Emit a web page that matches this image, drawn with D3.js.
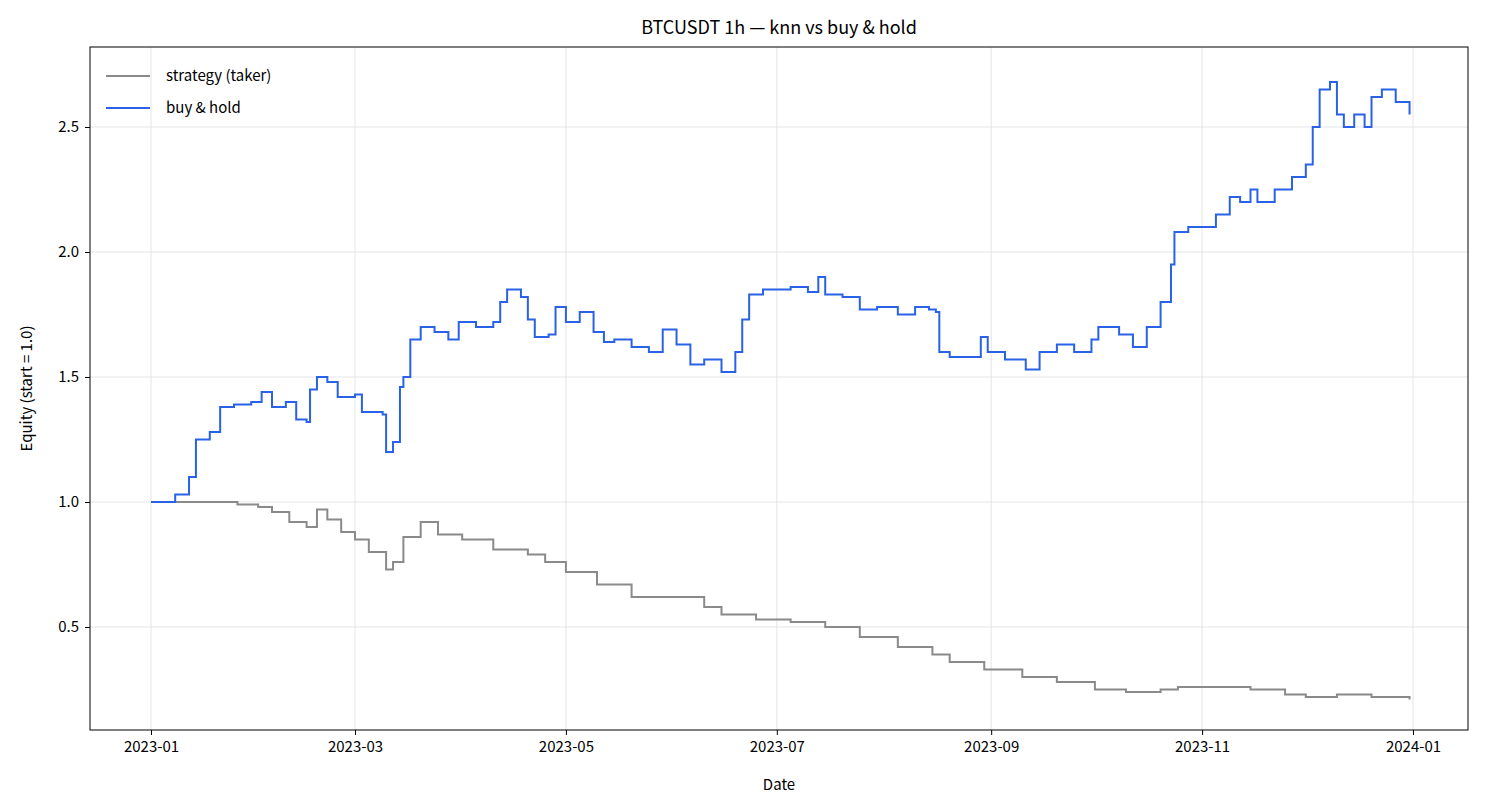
<!DOCTYPE html>
<html><head><meta charset="utf-8">
<script src="https://cdn.jsdelivr.net/npm/d3@7"></script>
<style>body{margin:0;background:#fff}text{font-family:"Noto Sans CJK KR","Noto Sans",sans-serif;fill:#000}</style>
</head><body><svg id="c" width="1485" height="810"></svg>
<script>
const holdDates=["2023-01-01","2023-01-08","2023-01-12","2023-01-14","2023-01-18","2023-01-21","2023-01-25","2023-01-30","2023-02-02","2023-02-05","2023-02-09","2023-02-12","2023-02-15","2023-02-16","2023-02-18","2023-02-21","2023-02-24","2023-03-01","2023-03-03","2023-03-09","2023-03-10","2023-03-12","2023-03-14","2023-03-15","2023-03-17","2023-03-20","2023-03-24","2023-03-28","2023-03-31","2023-04-05","2023-04-10","2023-04-12","2023-04-14","2023-04-18","2023-04-20","2023-04-22","2023-04-26","2023-04-28","2023-05-01","2023-05-05","2023-05-09","2023-05-12","2023-05-15","2023-05-20","2023-05-25","2023-05-29","2023-06-02","2023-06-06","2023-06-10","2023-06-15","2023-06-19","2023-06-21","2023-06-23","2023-06-27","2023-06-30","2023-07-05","2023-07-10","2023-07-13","2023-07-15","2023-07-20","2023-07-25","2023-07-30","2023-08-05","2023-08-10","2023-08-14","2023-08-16","2023-08-17","2023-08-20","2023-08-25","2023-08-29","2023-08-31","2023-09-05","2023-09-11","2023-09-15","2023-09-20","2023-09-25","2023-09-30","2023-10-02","2023-10-08","2023-10-12","2023-10-16","2023-10-20","2023-10-23","2023-10-24","2023-10-28","2023-11-01","2023-11-05","2023-11-09","2023-11-12","2023-11-15","2023-11-17","2023-11-22","2023-11-27","2023-12-01","2023-12-03","2023-12-05","2023-12-08","2023-12-10","2023-12-12","2023-12-15","2023-12-18","2023-12-20","2023-12-23","2023-12-27","2023-12-31"];
const holdValues=[1.0,1.03,1.1,1.25,1.28,1.38,1.39,1.4,1.44,1.38,1.4,1.33,1.32,1.45,1.5,1.48,1.42,1.43,1.36,1.35,1.2,1.24,1.46,1.5,1.65,1.7,1.68,1.65,1.72,1.7,1.72,1.8,1.85,1.82,1.73,1.66,1.67,1.78,1.72,1.76,1.68,1.64,1.65,1.62,1.6,1.69,1.63,1.55,1.57,1.52,1.6,1.73,1.83,1.85,1.85,1.86,1.84,1.9,1.83,1.82,1.77,1.78,1.75,1.78,1.77,1.76,1.6,1.58,1.58,1.66,1.6,1.57,1.53,1.6,1.63,1.6,1.65,1.7,1.67,1.62,1.7,1.8,1.95,2.08,2.1,2.1,2.15,2.22,2.2,2.25,2.2,2.25,2.3,2.35,2.5,2.65,2.68,2.55,2.5,2.55,2.5,2.62,2.65,2.6,2.55];
const stratDates=["2023-01-01","2023-01-23","2023-01-26","2023-02-01","2023-02-05","2023-02-10","2023-02-15","2023-02-18","2023-02-21","2023-02-25","2023-03-01","2023-03-05","2023-03-10","2023-03-12","2023-03-15","2023-03-20","2023-03-25","2023-04-01","2023-04-10","2023-04-20","2023-04-25","2023-05-01","2023-05-10","2023-05-20","2023-06-01","2023-06-10","2023-06-15","2023-06-25","2023-07-05","2023-07-15","2023-07-25","2023-08-05","2023-08-15","2023-08-20","2023-08-30","2023-09-10","2023-09-20","2023-10-01","2023-10-10","2023-10-20","2023-10-25","2023-11-05","2023-11-15","2023-11-25","2023-12-01","2023-12-10","2023-12-20","2023-12-31"];
const stratValues=[1.0,1.0,0.99,0.98,0.96,0.92,0.9,0.97,0.93,0.88,0.85,0.8,0.73,0.76,0.86,0.92,0.87,0.85,0.81,0.79,0.76,0.72,0.67,0.62,0.62,0.58,0.55,0.53,0.52,0.5,0.46,0.42,0.39,0.36,0.33,0.3,0.28,0.25,0.24,0.25,0.26,0.26,0.25,0.23,0.22,0.23,0.22,0.21];
const yTicks=[0.5,1.0,1.5,2.0,2.5];
const xTickLabels=["2023-01","2023-03","2023-05","2023-07","2023-09","2023-11","2024-01"];

const p=d3.timeParse("%Y-%m-%d"), pm=d3.timeParse("%Y-%m");
const L=90,R=1468,T=47,B=730;
const x=d3.scaleTime().domain([pm("2023-01"),pm("2024-01")]).range([151,1413]);
const y=d3.scaleLinear().domain([1.0,2.5]).range([502,127]);
const svg=d3.select("#c");
const g=svg.append("g");
g.selectAll(".gx").data(xTickLabels).enter().append("line").attr("x1",d=>x(pm(d))).attr("x2",d=>x(pm(d))).attr("y1",T).attr("y2",B).attr("stroke","#dedede").attr("stroke-width",0.8);
g.selectAll(".gy").data(yTicks).enter().append("line").attr("y1",d=>y(d)).attr("y2",d=>y(d)).attr("x1",L).attr("x2",R).attr("stroke","#dedede").attr("stroke-width",0.8);
const line=d3.line().x(d=>x(d[0])).y(d=>y(d[1])).curve(d3.curveStepAfter);
g.append("path").datum(stratDates.map((d,i)=>[p(d),stratValues[i]])).attr("d",line).attr("fill","none").attr("stroke","#8a8a8a").attr("stroke-width",2);
g.append("path").datum(holdDates.map((d,i)=>[p(d),holdValues[i]])).attr("d",line).attr("fill","none").attr("stroke","#2962e6").attr("stroke-width",2);
g.append("rect").attr("x",L).attr("y",T).attr("width",R-L).attr("height",B-T).attr("fill","none").attr("stroke","#000").attr("stroke-width",1);
const xa=svg.append("g").attr("transform",`translate(0,${B})`).call(d3.axisBottom(x).tickValues(xTickLabels.map(d=>pm(d))).tickFormat(d3.timeFormat("%Y-%m")).tickSizeOuter(0).tickSize(5).tickPadding(6));
const ya=svg.append("g").attr("transform",`translate(${L},0)`).call(d3.axisLeft(y).tickValues(yTicks).tickFormat(d3.format(".1f")).tickSizeOuter(0).tickSize(5).tickPadding(6));
[xa,ya].forEach(a=>{a.select(".domain").remove();a.selectAll("text").attr("font-size",15).style("font-family","'Noto Sans CJK KR',sans-serif");});
svg.append("text").attr("x",(L+R)/2).attr("y",34).attr("text-anchor","middle").attr("font-size",18).text("BTCUSDT 1h — knn vs buy & hold");
svg.append("text").attr("x",(L+R)/2).attr("y",790).attr("text-anchor","middle").attr("font-size",15).text("Date");
svg.append("text").attr("transform",`translate(32,${(T+B)/2}) rotate(-90)`).attr("text-anchor","middle").attr("font-size",15).text("Equity (start = 1.0)");
const leg=[["strategy (taker)","#8a8a8a"],["buy & hold","#2962e6"]];
leg.forEach((d,i)=>{const yy=76+i*32;svg.append("line").attr("x1",106).attr("x2",150).attr("y1",yy).attr("y2",yy).attr("stroke",d[1]).attr("stroke-width",2);
svg.append("text").attr("x",166).attr("y",yy+5).attr("font-size",15).text(d[0]);});
</script></body></html>
